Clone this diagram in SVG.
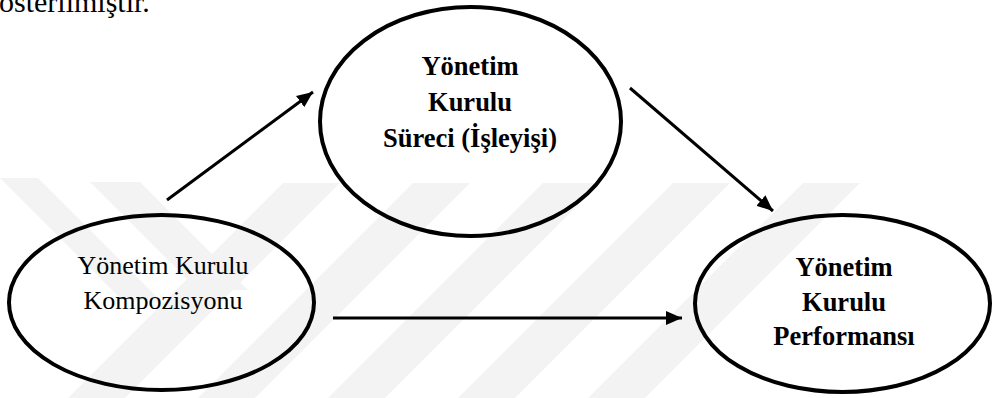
<svg xmlns="http://www.w3.org/2000/svg" width="994" height="398" viewBox="0 0 994 398">
  <style>
    .node { fill: none; stroke: #000; stroke-width: 4; }
    .reg { font-family: "Liberation Serif", "Times New Roman", serif; font-size: 26px; fill: #000; text-anchor: middle; }
    .bold { font-family: "Liberation Serif", "Times New Roman", serif; font-size: 26.5px; font-weight: bold; fill: #000; text-anchor: middle; }
    .conn { stroke: #000; stroke-width: 3; fill: none; }
    .wm { fill: #f3f3f3; }
  </style>
  <defs>
    <marker id="arrow" markerUnits="userSpaceOnUse" markerWidth="18" markerHeight="14" refX="16" refY="7" orient="auto">
      <path d="M0,0 L16,7 L0,14 Z" fill="#000"/>
    </marker>
  </defs>
  <rect width="994" height="398" fill="#fff"/>
  <g id="watermark">
    <polygon class="wm" points="283,183 340,183 125,398 68,398"/>
    <polygon class="wm" points="413,183 470,183 255,398 198,398"/>
    <polygon class="wm" points="543,183 600,183 385,398 328,398"/>
    <polygon class="wm" points="673,183 730,183 515,398 458,398"/>
    <polygon class="wm" points="803,183 860,183 645,398 588,398"/>
    <polygon class="wm" points="90,182 140,182 248,290 198,290"/>
    <polygon class="wm" points="0,178 38,178 160,300 122,300 0,178"/>
  </g>
  <text x="-1" y="12" font-family="'Liberation Serif', 'Times New Roman', serif" font-size="30" fill="#000">österilmiştir.</text>
  <g id="connectors">
    <line class="conn" x1="167" y1="200" x2="313" y2="92" marker-end="url(#arrow)"/>
    <line class="conn" x1="630" y1="88" x2="773" y2="211" marker-end="url(#arrow)"/>
    <line class="conn" x1="333" y1="318" x2="682" y2="318" marker-end="url(#arrow)"/>
  </g>
  <g id="node-surec">
    <ellipse class="node" cx="470.5" cy="121.5" rx="150.5" ry="114.5"/>
    <text class="bold" x="470" y="75">Yönetim</text>
    <text class="bold" x="470" y="111">Kurulu</text>
    <text class="bold" x="470" y="147">Süreci (İşleyişi)</text>
  </g>
  <g id="node-kompozisyon">
    <ellipse class="node" cx="161.5" cy="302.5" rx="152.5" ry="87.5"/>
    <text class="reg" x="163" y="274">Yönetim Kurulu</text>
    <text class="reg" x="163" y="309">Kompozisyonu</text>
  </g>
  <g id="node-performans">
    <ellipse class="node" cx="842.5" cy="303.5" rx="147.5" ry="88.5"/>
    <text class="bold" x="844" y="276">Yönetim</text>
    <text class="bold" x="844" y="311">Kurulu</text>
    <text class="bold" x="844" y="345">Performansı</text>
  </g>
</svg>
